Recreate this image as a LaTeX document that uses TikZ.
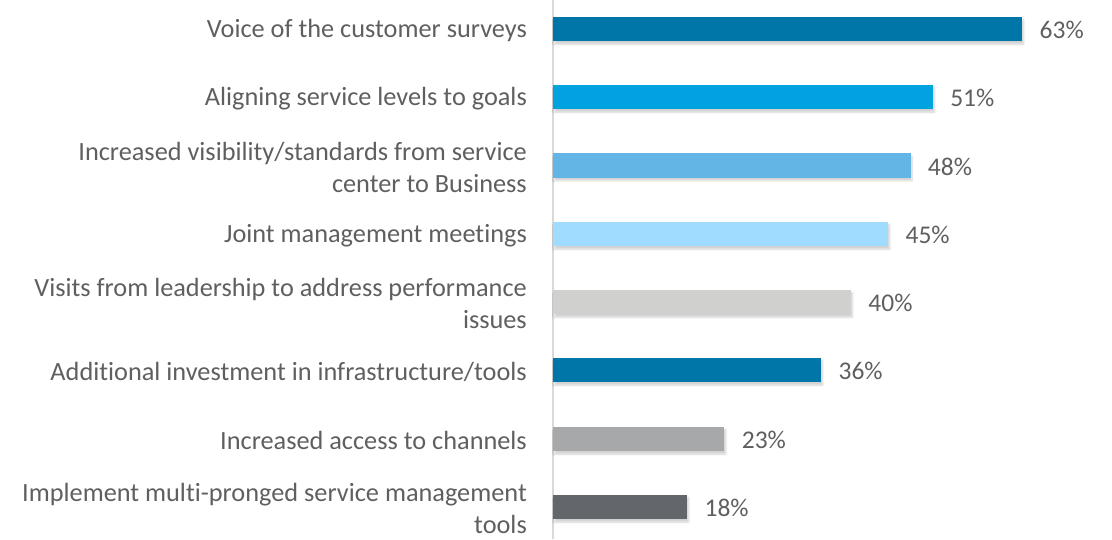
\documentclass[tikz,border=0pt]{standalone}
\usepackage{fontspec}
\setmainfont{Carlito}[Ligatures=NoCommon]
\usetikzlibrary{positioning,shadows.blur}

\definecolor{BlueDark}{HTML}{0076A8}
\definecolor{BlueMid}{HTML}{00A3E0}
\definecolor{BlueSoft}{HTML}{62B5E5}
\definecolor{BlueLight}{HTML}{A0DCFF}
\definecolor{GrayLight}{HTML}{D0D0CE}
\definecolor{GrayMid}{HTML}{A7A8AA}
\definecolor{GrayDark}{HTML}{63666A}
\definecolor{TextGray}{HTML}{5F5F5F}
\definecolor{AxisGray}{HTML}{D9D9D9}

\begin{document}
\begin{tikzpicture}[x=1pt,y=-1pt]
		\tikzstyle{Bar}   = [shape=rectangle,minimum height=24.5pt,inner sep=0pt,anchor=west,
		                     blur shadow={shadow xshift=1.5pt,shadow yshift=-3pt,shadow blur steps=8,shadow opacity=18}]
		\tikzstyle{Label} = [align=right,text=TextGray,inner sep=0pt,yshift=-1.5pt,font=\fontsize{26.3}{32}\selectfont]
		\tikzstyle{Value} = [text=TextGray,inner sep=0pt,yshift=-1pt,font=\fontsize{25.5}{28}\selectfont]
		\def\Unit{7.445pt}

		\useasboundingbox (0,0) rectangle (1112,539);
		\draw[AxisGray,line width=1.6pt] (553,0) -- (553,539);

		\node[Bar,fill=BlueDark,minimum width=63*\Unit]  (Voice)    at (553,29)  {};
		\node[Bar,fill=BlueMid,minimum width=51*\Unit]   (Aligning) at (553,97)  {};
		\node[Bar,fill=BlueSoft,minimum width=48*\Unit]  (Visibility) at (553,165.5) {};
		\node[Bar,fill=BlueLight,minimum width=45*\Unit] (Joint)    at (553,234) {};
		\node[Bar,fill=GrayLight,minimum width=40*\Unit] (Visits)   at (553,302) {};
		\node[Bar,fill=BlueDark,minimum width=36*\Unit]  (Investment) at (553,370) {};
		\node[Bar,fill=GrayMid,minimum width=23*\Unit]   (Access)   at (553,439) {};
		\node[Bar,fill=GrayDark,minimum width=18*\Unit]  (Tools)    at (553,507) {};

		\node[Label,left=26pt of Voice]      (Voice label)      {Voice of the customer surveys};
		\node[Label,left=26pt of Aligning]   (Aligning label)   {Aligning service levels to goals};
		\node[Label,left=26pt of Visibility] (Visibility label) {Increased visibility/standards from service\\center to Business};
		\node[Label,left=26pt of Joint]      (Joint label)      {Joint management meetings};
		\node[Label,left=26pt of Visits]     (Visits label)     {Visits from leadership to address performance\\issues};
		\node[Label,left=26pt of Investment] (Investment label) {Additional investment in infrastructure/tools};
		\node[Label,left=26pt of Access]     (Access label)     {Increased access to channels};
		\node[Label,left=26pt of Tools]      (Tools label)      {Implement multi-pronged service management\\tools};

		\node[Value,right=17pt of Voice]      (Voice value)      {63\%};
		\node[Value,right=17pt of Aligning]   (Aligning value)   {51\%};
		\node[Value,right=17pt of Visibility] (Visibility value) {48\%};
		\node[Value,right=17pt of Joint]      (Joint value)      {45\%};
		\node[Value,right=17pt of Visits]     (Visits value)     {40\%};
		\node[Value,right=17pt of Investment] (Investment value) {36\%};
		\node[Value,right=17pt of Access]     (Access value)     {23\%};
		\node[Value,right=17pt of Tools]      (Tools value)      {18\%};
	\end{tikzpicture}
\end{document}
